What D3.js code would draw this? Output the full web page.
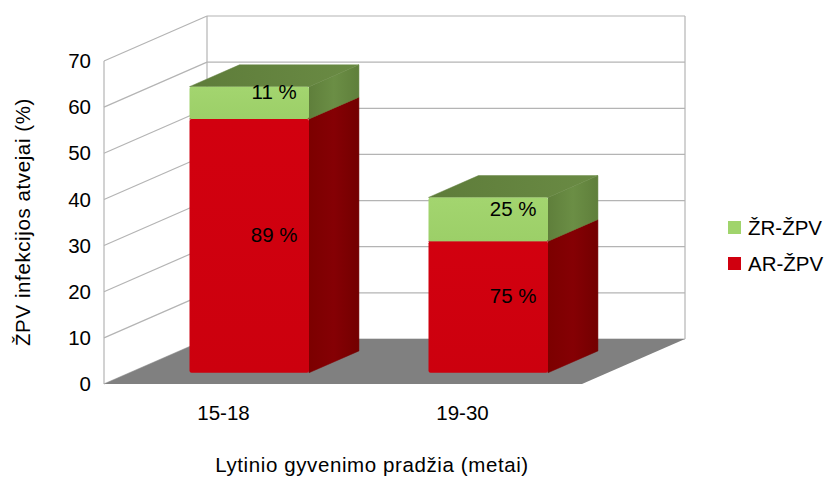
<!DOCTYPE html>
<html>
<head>
<meta charset="utf-8">
<script src="https://cdn.jsdelivr.net/npm/d3@7"></script>
<style>
  html, body { margin: 0; padding: 0; background: #fff; }
  svg { display: block; font-family: "Liberation Sans", Arial, sans-serif; }
</style>
</head>
<body>
<svg id="chart" width="828" height="477"></svg>
<script>
// Age at sexual debut groups
const categories = ["15-18", "19-30"];
// Series, bottom to top of each stack
const seriesNames = ["AR-ŽPV", "ŽR-ŽPV"];
const arValues = [55, 28.5];
const zrValues = [7, 9.5];
const yTicks = [0, 10, 20, 30, 40, 50, 60, 70];
const yTitle = "ŽPV infekcijos atvejai (%)";
const xTitle = "Lytinio gyvenimo pradžia (metai)";

const FS = 20.5;
const svg = d3.select("#chart");

// Front plane of the 3D box
const x = d3.scaleBand().domain(categories).range([104, 582])
  .paddingInner(0.5).paddingOuter(0.25);
const y = d3.scaleLinear().domain([0, 70]).range([384, 61]);
// Depth vector of the whole box (front to back wall)
const DX = 103, DY = -45;
const P = (px, v, z) => [px + DX * z, y(v) + DY * z];

const gridColor = "#b4b4b4";
const defs = svg.append("defs");

function lin(id, x1, y1, x2, y2, stops) {
  const g = defs.append("linearGradient").attr("id", id)
    .attr("x1", x1).attr("y1", y1).attr("x2", x2).attr("y2", y2);
  stops.forEach(([o, c]) => g.append("stop").attr("offset", o).attr("stop-color", c));
}
lin("gTop", 0, 0, 1, 0, [[0, "#5e7c3a"], [1, "#6a8b44"]]);
lin("gSide", 0, 0, 1, 0, [[0, "#5f7f3b"], [0.5, "#6b8e45"], [1, "#5f7f3b"]]);
lin("gFront", 0, 0, 0, 1, [[0, "#a3d56f"], [1, "#9ccf68"]]);
lin("rSide", 0, 0, 1, 0, [[0, "#7c0000"], [0.5, "#850004"], [1, "#730000"]]);
lin("rFront", 0, 0, 0, 1, [[0, "#d2000f"], [1, "#cc000e"]]);

const poly = pts => "M" + pts.map(p => p.join(",")).join("L") + "Z";
const [x0, x1] = x.range();

// Walls
const walls = svg.append("g");
yTicks.forEach(v => {
  const a = P(x0, v, 1), b = P(x1, v, 1);
  walls.append("line").attr("x1", a[0]).attr("y1", a[1]).attr("x2", b[0]).attr("y2", b[1])
    .attr("stroke", gridColor).attr("stroke-width", 1.2);
  const c = P(x0, v, 0);
  walls.append("line").attr("x1", c[0]).attr("y1", c[1]).attr("x2", a[0]).attr("y2", a[1])
    .attr("stroke", gridColor).attr("stroke-width", 1.2);
});
[[x0, 0], [x0, 1], [x1, 1]].forEach(([px, z]) => {
  const a = P(px, 0, z), b = P(px, 70, z);
  walls.append("line").attr("x1", a[0]).attr("y1", a[1]).attr("x2", b[0]).attr("y2", b[1])
    .attr("stroke", gridColor).attr("stroke-width", 1.2);
});
// floor
walls.append("path")
  .attr("d", poly([P(x0, 0, 0), P(x1, 0, 0), P(x1, 0, 1), P(x0, 0, 1)]))
  .attr("fill", "#808080");

// Y tick labels
svg.append("g").selectAll("text").data(yTicks).join("text")
  .attr("x", 91).attr("y", d => y(d)).attr("dy", "0.35em")
  .attr("text-anchor", "end").attr("font-size", FS).attr("fill", "#000")
  .text(d => d);

// Category labels
svg.append("g").selectAll("text").data(categories).join("text")
  .attr("x", d => x(d) + x.bandwidth() / 2).attr("y", 420)
  .attr("text-anchor", "middle").attr("font-size", FS).text(d => d);

// Axis titles
svg.append("text").attr("x", 372).attr("y", 472).attr("text-anchor", "middle")
  .attr("font-size", FS).attr("letter-spacing", 0.6).text(xTitle);
svg.append("text").attr("transform", "translate(30,222) rotate(-90)")
  .attr("text-anchor", "middle").attr("font-size", FS).attr("letter-spacing", 0.6).text(yTitle);

// Bars: stacked boxes
const z0 = 0.25, z1 = 0.735;
const stacks = categories.map((c, i) => {
  const total = arValues[i] + zrValues[i];
  return [
    { cat: c, lo: 0, hi: arValues[i], v: arValues[i], total, front: "url(#rFront)", side: "url(#rSide)", top: "#8a0000" },
    { cat: c, lo: arValues[i], hi: total, v: zrValues[i], total, front: "url(#gFront)", side: "url(#gSide)", top: "url(#gTop)" }
  ];
});

const bars = svg.append("g");
stacks.forEach(segs => {
  segs.forEach(s => {
    const L = x(s.cat), R = x(s.cat) + x.bandwidth();
    const g = bars.append("g");
    g.append("path").attr("d", poly([P(R, s.lo, z0), P(R, s.lo, z1), P(R, s.hi, z1), P(R, s.hi, z0)]))
      .attr("fill", s.side).attr("stroke", s.side).attr("stroke-width", 0.5).attr("stroke-linejoin", "round");
    g.append("path").attr("d", poly([P(L, s.hi, z0), P(R, s.hi, z0), P(R, s.hi, z1), P(L, s.hi, z1)]))
      .attr("fill", s.top).attr("stroke", s.top).attr("stroke-width", 0.5).attr("stroke-linejoin", "round");
    const a = P(L, s.hi, z0), b = P(R, s.lo, z0);
    g.append("rect").attr("x", a[0]).attr("y", a[1]).attr("width", b[0] - a[0]).attr("height", b[1] - a[1])
      .attr("rx", 2).attr("fill", s.front);
  });
});

// Share labels at the centre of each box
const labels = svg.append("g");
stacks.flat().forEach(s => {
  const cx = x(s.cat) + x.bandwidth() / 2;
  const c = P(cx, (s.lo + s.hi) / 2, (z0 + z1) / 2);
  labels.append("text").attr("x", c[0]).attr("y", c[1]).attr("dy", "0.35em")
    .attr("text-anchor", "middle").attr("font-size", FS)
    .text(Math.round(s.v / s.total * 100) + " %");
});

// Legend
const legendItems = [
  { name: seriesNames[1], color: "#a0d46c" },
  { name: seriesNames[0], color: "#d0000f" }
];
const lg = svg.append("g").selectAll("g").data(legendItems).join("g")
  .attr("transform", (d, i) => `translate(728,${221 + i * 36})`);
lg.append("rect").attr("width", 13).attr("height", 13).attr("fill", d => d.color);
lg.append("text").attr("x", 20).attr("y", 7).attr("dy", "0.35em")
  .attr("font-size", FS).text(d => d.name);
</script>
</body>
</html>
